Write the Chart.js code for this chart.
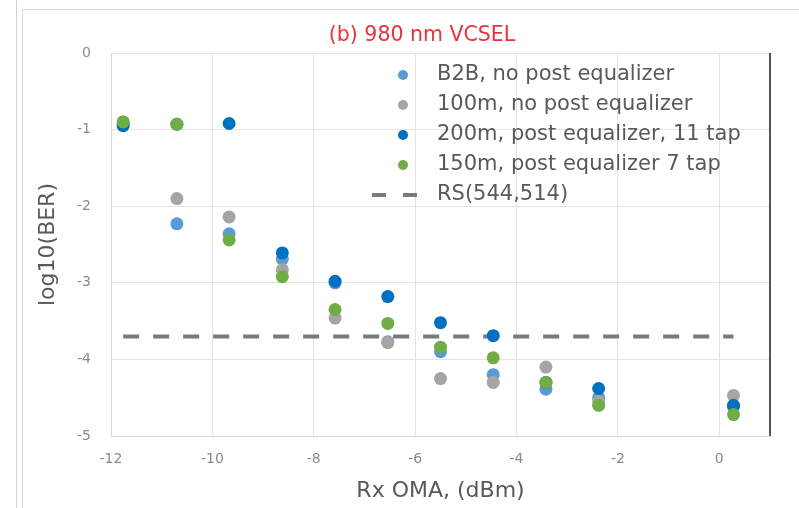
<!DOCTYPE html>
<html>
<head>
<meta charset="utf-8">
<script src="https://cdn.jsdelivr.net/npm/chart.js@4/dist/chart.umd.min.js"></script>
<style>
  body { margin: 0; background: #fff; width: 799px; height: 508px; overflow: hidden; position: relative; }
  .rule { position: absolute; left: 16px; top: 0; width: 1px; height: 508px; background: #d4d4d4; }
  .panel { position: absolute; left: 22px; top: 9px; width: 800px; height: 520px; border: 1px solid #dcdcdc; }
  canvas { position: absolute; left: 0; top: 0; }
</style>
</head>
<body>
<div class="rule"></div>
<div class="panel"></div>
<canvas id="berChart" width="799" height="508"></canvas>
<script>
// received optical modulation amplitude for each measurement column (dBm)
const rxOma = [-11.76, -10.7, -9.67, -8.62, -7.58, -6.54, -5.5, -4.46, -3.42, -2.38, 0.28];

// log10(BER) per series
const b2bNoEq    = [-0.93, -2.23, -2.36, -2.69, -3.0, -3.77, -3.9, -4.2, -4.39, -4.5, -4.62];
const m100NoEq   = [-0.9, -1.9, -2.14, -2.83, -3.46, -3.78, -4.25, -4.3, -4.1, -4.55, -4.47];
const m200Eq11   = [-0.95, -0.93, -0.92, -2.61, -2.98, -3.18, -3.52, -3.69, -4.3, -4.38, -4.6];
const m150Eq7    = [-0.9, -0.93, -2.44, -2.92, -3.35, -3.53, -3.84, -3.98, -4.3, -4.6, -4.72];

// FEC threshold
const fecLimit = -3.7;
const fecLabel = "RS(544,514)";

const seriesLabels = [
  "B2B, no post equalizer",
  "100m, no post equalizer",
  "200m, post equalizer, 11 tap",
  "150m, post equalizer 7 tap"
];
const seriesColors = ["#5b9bd5", "#a5a5a5", "#0070c0", "#70ad47"];
const seriesValues = [b2bNoEq, m100NoEq, m200Eq11, m150Eq7];

const xTicks = [-12, -10, -8, -6, -4, -2, 0];

const FONT = "DejaVu Sans";

function toPoints(ys) {
  return rxOma.map((x, i) => ({ x: x, y: ys[i] }));
}

// later series sit on top of earlier ones
let datasets = seriesValues.map((ys, i) => ({
  type: "scatter",
  label: seriesLabels[i],
  data: toPoints(ys),
  backgroundColor: seriesColors[i],
  borderWidth: 0,
  pointRadius: 6.5,
  pointHoverRadius: 6.5,
  order: seriesValues.length - i
}));

datasets.push({
  type: "line",
  label: fecLabel,
  data: [{ x: rxOma[0], y: fecLimit }, { x: rxOma[rxOma.length - 1], y: fecLimit }],
  borderColor: "#7a7a7a",
  borderWidth: 4,
  borderDash: [16, 14],
  pointRadius: 0,
  fill: false,
  order: 10
});

// title, legend and right frame line drawn straight onto the canvas
const overlay = {
  id: "overlay",
  afterDraw(chart) {
    const ctx = chart.ctx;
    const area = chart.chartArea;
    ctx.save();

    ctx.strokeStyle = "#555";
    ctx.lineWidth = 2;
    ctx.beginPath();
    ctx.moveTo(area.right, area.top);
    ctx.lineTo(area.right, area.bottom);
    ctx.stroke();

    ctx.fillStyle = "#e8323c";
    ctx.font = "20.5px '" + FONT + "'";
    ctx.textAlign = "center";
    ctx.textBaseline = "middle";
    ctx.fillText("(b) 980 nm VCSEL", 422, 36);

    ctx.font = "21px '" + FONT + "'";
    ctx.textAlign = "left";
    const rowY = [75, 105, 135, 165, 195];
    chart.data.datasets.forEach((ds, i) => {
      const y = rowY[i];
      if (ds.type === "line") {
        ctx.strokeStyle = ds.borderColor;
        ctx.lineWidth = 4;
        ctx.setLineDash([14, 17]);
        ctx.beginPath();
        ctx.moveTo(372, y);
        ctx.lineTo(418, y);
        ctx.stroke();
        ctx.setLineDash([]);
      } else {
        ctx.fillStyle = ds.backgroundColor;
        ctx.beginPath();
        ctx.arc(403, y, 5, 0, Math.PI * 2);
        ctx.fill();
      }
      ctx.fillStyle = "#595959";
      ctx.fillText(ds.label, 437, y);
    });
    ctx.restore();
  }
};

new Chart(document.getElementById("berChart"), {
  data: { datasets: datasets },
  plugins: [overlay],
  options: {
    responsive: false,
    animation: false,
    layout: { padding: { top: 53, right: 29, left: 0, bottom: 0 } },
    plugins: {
      legend: { display: false },
      title: { display: false },
      tooltip: { enabled: false }
    },
    scales: {
      x: {
        type: "linear",
        min: -12,
        max: 1,
        afterBuildTicks: scale => { scale.ticks = xTicks.map(v => ({ value: v })); },
        afterFit: scale => { scale.height = 72; },
        grid: { color: "#e3e3e3", drawTicks: false },
        border: { color: "#d9d9d9" },
        ticks: { color: "#8a8a8a", font: { family: FONT, size: 14 }, padding: 15 },
        title: {
          display: true,
          text: "Rx OMA, (dBm)",
          color: "#595959",
          font: { family: FONT, size: 22 },
          padding: { top: 0, bottom: 4 }
        }
      },
      y: {
        min: -5,
        max: 0,
        afterFit: scale => { scale.width = 111; },
        ticks: { stepSize: 1, color: "#8a8a8a", font: { family: FONT, size: 14 }, padding: 20 },
        grid: { color: "#e3e3e3", drawTicks: false },
        border: { color: "#d9d9d9" },
        title: {
          display: true,
          text: "log10(BER)",
          color: "#595959",
          font: { family: FONT, size: 22 },
          padding: { top: 35, bottom: 0 }
        }
      }
    }
  }
});
</script>
</body>
</html>
